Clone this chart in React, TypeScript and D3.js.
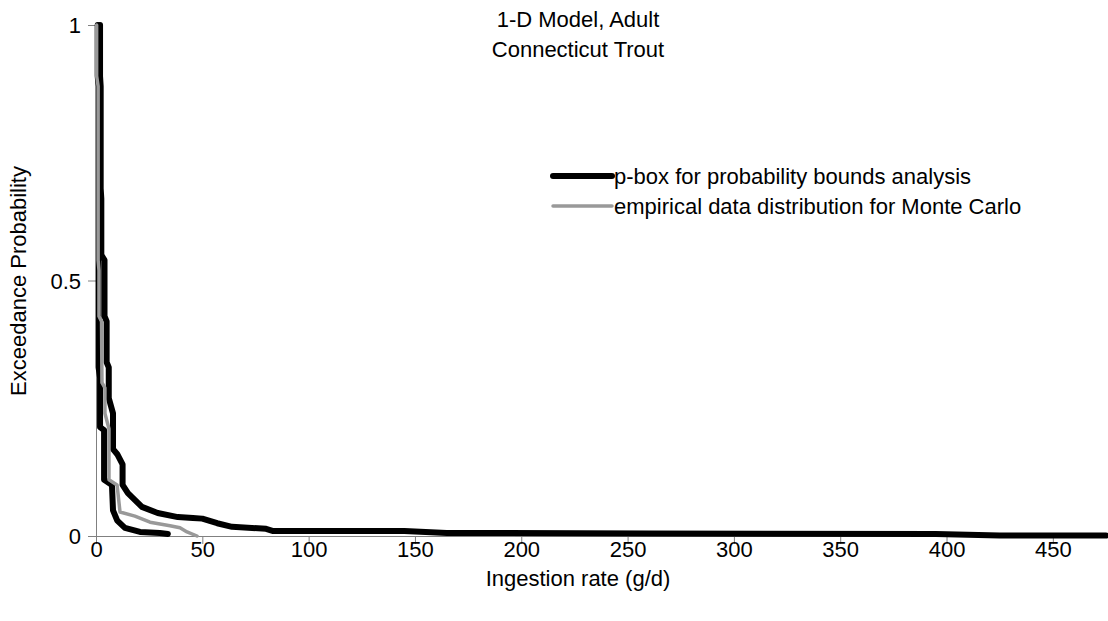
import React, { useEffect, useRef } from "react";
import * as d3 from "d3";

// exceedance curves: [ingestion rate g/d, exceedance probability]
const upperBound: [number, number][] = [
  [1.9, 1.0], [1.9, 0.9], [2.2, 0.88], [2.2, 0.68], [2.5, 0.66], [2.5, 0.55],
  [4, 0.54], [4, 0.43], [5, 0.42], [5, 0.34], [6, 0.33], [6, 0.27],
  [8, 0.24], [8, 0.17], [10, 0.16], [12.5, 0.14], [12.5, 0.1], [15, 0.084],
  [21.6, 0.057], [29, 0.045], [38.5, 0.037], [45.6, 0.035], [50, 0.034],
  [57, 0.025], [64, 0.018], [80, 0.014], [83, 0.01], [145, 0.01],
  [165, 0.006], [260, 0.005], [395, 0.004], [425, 0.001], [475, 0.001],
];

const lowerBound: [number, number][] = [
  [0.8, 1.0], [0.8, 0.9], [1.2, 0.88], [1.2, 0.33], [1.9, 0.31],
  [1.9, 0.213], [3.8, 0.207], [3.8, 0.11], [7.5, 0.1], [8, 0.05],
  [10, 0.03], [13.6, 0.016], [20.7, 0.008], [30, 0.006], [33.8, 0.004],
];

const empirical: [number, number][] = [
  [0.3, 1.0], [0.3, 0.9], [1, 0.88], [1, 0.54], [1.4, 0.52], [1.4, 0.43],
  [2.6, 0.42], [2.8, 0.3], [4.2, 0.29], [4.2, 0.24], [6.1, 0.21], [6.1, 0.11],
  [9.9, 0.1], [11.3, 0.047], [18.3, 0.039], [25.4, 0.027], [34.8, 0.02],
  [39.5, 0.016], [42.8, 0.008], [47.5, 0],
];

const xTicks = [0, 50, 100, 150, 200, 250, 300, 350, 400, 450];
const yTicks = [0, 0.5, 1];
const legendLabels = [
  "p-box for probability bounds analysis",
  "empirical data distribution for Monte Carlo",
];

export default function App() {
  const svgRef = useRef<SVGSVGElement>(null);

  useEffect(() => {
    const width = 1108;
    const height = 621;
    const font = "'Liberation Sans', Arial, sans-serif";
    const fs = "22px";

    const svg = d3.select(svgRef.current)
      .attr("width", width)
      .attr("height", height)
      .style("font-family", font);
    svg.selectAll("*").remove();

    const x = d3.scaleLinear().domain([0, 475]).range([96, 1106]);
    const y = d3.scaleLinear().domain([0, 1]).range([536, 25]);

    // axes
    const xAxis = d3.axisBottom(x).tickValues(xTicks).tickSize(8).tickSizeOuter(0);
    const gx = svg.append("g")
      .attr("transform", `translate(0, ${y(0)})`)
      .call(xAxis);
    gx.select(".domain").attr("stroke", "#808080");
    gx.selectAll(".tick line").attr("stroke", "#808080");
    gx.selectAll(".tick text")
      .attr("fill", "#000")
      .style("font-size", fs)
      .style("font-family", font)
      .attr("dy", "0")
      .attr("y", 21);

    const yAxis = d3.axisLeft(y).tickValues(yTicks).tickSize(8).tickSizeOuter(0)
      .tickFormat(d => String(d));
    const gy = svg.append("g")
      .attr("transform", `translate(${x(0)}, 0)`)
      .call(yAxis);
    gy.select(".domain").attr("stroke", "#808080");
    gy.selectAll(".tick line").attr("stroke", "#808080");
    gy.selectAll(".tick text")
      .attr("fill", "#000")
      .style("font-size", fs)
      .style("font-family", font)
      .attr("x", -15)
      .attr("dy", "0.35em");

    const line = d3.line<[number, number]>()
      .x(d => x(d[0]))
      .y(d => y(d[1]));

    const drawCurve = (pts: [number, number][], color: string, w: number) => {
      svg.append("path")
        .datum(pts)
        .attr("d", line)
        .attr("fill", "none")
        .attr("stroke", color)
        .attr("stroke-width", w)
        .attr("stroke-linejoin", "round")
        .attr("stroke-linecap", "round");
    };

    drawCurve(upperBound, "#000", 6);
    drawCurve(lowerBound, "#000", 6);
    drawCurve(empirical, "#999999", 3.5);

    // legend
    const legend = [
      { label: legendLabels[0], color: "#000", w: 6, yy: 176 },
      { label: legendLabels[1], color: "#999999", w: 3.5, yy: 206 },
    ];
    legend.forEach(l => {
      svg.append("line")
        .attr("x1", 553).attr("x2", 612)
        .attr("y1", l.yy).attr("y2", l.yy)
        .attr("stroke", l.color)
        .attr("stroke-width", l.w)
        .attr("stroke-linecap", "round");
      svg.append("text")
        .attr("x", 614)
        .attr("y", l.yy + 8)
        .style("font-size", fs)
        .text(l.label);
    });

    // titles
    svg.append("text")
      .attr("x", 578).attr("y", 27)
      .attr("text-anchor", "middle")
      .style("font-size", fs)
      .text("1-D Model, Adult");
    svg.append("text")
      .attr("x", 578).attr("y", 57)
      .attr("text-anchor", "middle")
      .style("font-size", fs)
      .text("Connecticut Trout");

    svg.append("text")
      .attr("x", 578).attr("y", 586)
      .attr("text-anchor", "middle")
      .style("font-size", fs)
      .text("Ingestion rate (g/d)");

    svg.append("text")
      .attr("transform", "translate(26, 281) rotate(-90)")
      .attr("text-anchor", "middle")
      .style("font-size", fs)
      .text("Exceedance Probability");
  }, []);

  return (
    <div style={{ position: "absolute", left: 0, top: 0 }}>
      <svg ref={svgRef} style={{ display: "block" }}></svg>
    </div>
  );
}
